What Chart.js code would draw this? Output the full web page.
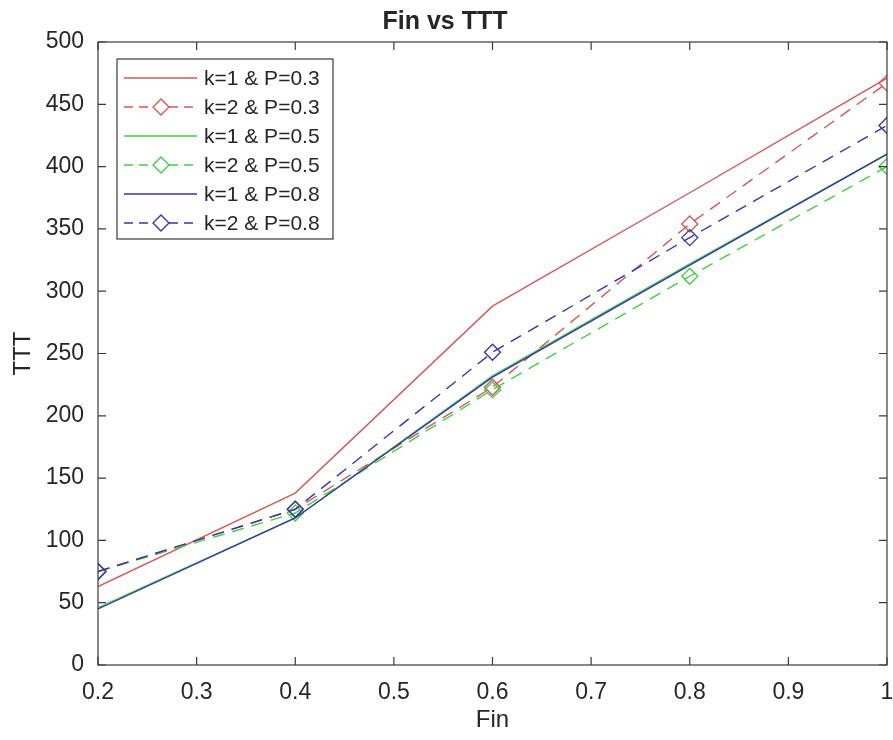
<!DOCTYPE html>
<html><head><meta charset="utf-8">
<script src="https://cdn.jsdelivr.net/npm/chart.js@4.4.1/dist/chart.umd.min.js"></script>
<style>html,body{margin:0;padding:0;background:#fff}#wrap{width:893px;height:740px}</style>
</head><body><div id="wrap"><canvas id="c" width="893" height="740"></canvas></div>
<script>
const finValues = [0.2, 0.4, 0.6, 0.8, 1.0];
const k1P03 = [63, 138, 288, 379, 471];
const k2P03 = [75, 125, 223, 354, 467];
const k1P05 = [46, 118, 232, 322, 410];
const k2P05 = [75, 122, 221, 312, 400];
const k1P08 = [45, 118, 231, 321, 410];
const k2P08 = [75, 125, 251, 343, 433];
const seriesLabels = ['k=1 & P=0.3','k=2 & P=0.3','k=1 & P=0.5','k=2 & P=0.5','k=1 & P=0.8','k=2 & P=0.8'];
const xTicks = [0.2,0.3,0.4,0.5,0.6,0.7,0.8,0.9,1.0];
const yTicks = [0,50,100,150,200,250,300,350,400,450,500];

const RED='rgb(212,88,88)', GREEN='rgb(70,205,70)', BLUE='rgb(55,55,165)';
const FONT='"Liberation Sans", Arial, sans-serif';
const TXT='#262626';
const fmtX = v => String(Math.round(v * 10) / 10);

function ds(label, vals, color, dashed, order){
  return {
    label, data: finValues.map((x,i)=>({x, y: vals[i]})),
    borderColor: color, backgroundColor: 'rgba(0,0,0,0)',
    borderWidth: 1.4, borderDash: dashed ? [12,8] : [],
    pointStyle: 'rectRot', pointRadius: dashed ? 8 : 0,
    pointBorderColor: color, pointBackgroundColor: 'rgba(0,0,0,0)', pointBorderWidth: 1.4,
    tension: 0, fill: false, order, _dashed: dashed
  };
}
const datasets = [
  ds(seriesLabels[0], k1P03, RED, false, 5),
  ds(seriesLabels[1], k2P03, RED, true, 4),
  ds(seriesLabels[2], k1P05, GREEN, false, 3),
  ds(seriesLabels[3], k2P05, GREEN, true, 2),
  ds(seriesLabels[4], k1P08, BLUE, false, 1),
  ds(seriesLabels[5], k2P08, BLUE, true, 0)
];

const boxPlugin = {
  id: 'boxPlugin',
  afterDraw(chart){
    const {ctx, chartArea: a, scales} = chart;
    ctx.save();
    ctx.strokeStyle = '#3a3a3a'; ctx.lineWidth = 1.2; ctx.setLineDash([]);
    ctx.strokeRect(a.left, a.top, a.right - a.left, a.bottom - a.top);
    const tl = 8;
    ctx.beginPath();
    for (const v of xTicks){
      const px = scales.x.getPixelForValue(v);
      ctx.moveTo(px, a.bottom); ctx.lineTo(px, a.bottom - tl);
      ctx.moveTo(px, a.top); ctx.lineTo(px, a.top + tl);
    }
    for (const v of yTicks){
      const py = scales.y.getPixelForValue(v);
      ctx.moveTo(a.left, py); ctx.lineTo(a.left + tl, py);
      ctx.moveTo(a.right, py); ctx.lineTo(a.right - tl, py);
    }
    ctx.stroke();
    // last x tick label (drawn here so it does not shrink the plot area)
    const items = scales.x.getLabelItems();
    const ref = items.find(it => it.label !== '');
    if (ref){
      const last = xTicks[xTicks.length - 1];
      ctx.font = '23px ' + FONT; ctx.fillStyle = TXT;
      ctx.textAlign = 'center'; ctx.textBaseline = ref.options.textBaseline || 'middle';
      ctx.fillText(fmtX(last), scales.x.getPixelForValue(last), ref.options.translation[1] + (ref.textOffset || 0));
    }
    // legend
    const lx = 117, ly = 59, lw = 216, lh = 180, row = 29;
    ctx.fillStyle = '#fff';
    ctx.fillRect(lx, ly, lw, lh);
    ctx.strokeStyle = '#3a3a3a'; ctx.lineWidth = 1.2;
    ctx.strokeRect(lx, ly, lw, lh);
    ctx.font = '21px ' + FONT; ctx.textBaseline = 'middle'; ctx.textAlign = 'left';
    chart.data.datasets.forEach((d, i) => {
      const cy = ly + 19 + i * row;
      ctx.strokeStyle = d.borderColor; ctx.lineWidth = 1.4;
      ctx.setLineDash(d._dashed ? [9,6] : []);
      ctx.beginPath(); ctx.moveTo(lx + 7, cy); ctx.lineTo(lx + 80, cy); ctx.stroke();
      ctx.setLineDash([]);
      if (d._dashed){
        const mx = lx + 44, r = 8;
        ctx.fillStyle = '#fff';
        ctx.beginPath(); ctx.moveTo(mx, cy - r); ctx.lineTo(mx + r, cy); ctx.lineTo(mx, cy + r); ctx.lineTo(mx - r, cy); ctx.closePath();
        ctx.fill(); ctx.stroke();
      }
      ctx.fillStyle = TXT;
      ctx.fillText(d.label, lx + 87, cy + 1);
    });
    ctx.restore();
  }
};

new Chart(document.getElementById('c'), {
  type: 'line',
  data: { datasets },
  options: {
    responsive: false, animation: false,
    layout: { autoPadding: false, padding: { left: 0, right: 3, top: 0, bottom: 0 } },
    plugins: {
      legend: { display: false }, tooltip: { enabled: false },
      title: { display: true, text: 'Fin vs TTT', color: TXT,
        font: { family: FONT, size: 25, weight: 'bold' }, padding: { top: 7, bottom: 5 } }
    },
    scales: {
      x: { type: 'linear', min: 0.2, max: 1.0,
        afterBuildTicks: s => { s.ticks = xTicks.map(v => ({ value: v })); },
        afterFit: s => { s.height = 75; },
        ticks: { color: TXT, font: { family: FONT, size: 23 }, padding: 6, maxRotation: 0,
          callback: v => (v >= 0.999 ? '' : fmtX(v)) },
        grid: { display: false }, border: { display: false },
        title: { display: true, text: 'Fin', color: TXT, font: { family: FONT, size: 24 }, padding: { top: 2, bottom: 5 } }
      },
      y: { min: 0, max: 500,
        afterBuildTicks: s => { s.ticks = yTicks.map(v => ({ value: v })); },
        afterFit: s => { s.width = 98; },
        ticks: { color: TXT, font: { family: FONT, size: 23 }, padding: 6 },
        grid: { display: false }, border: { display: false },
        title: { display: true, text: 'TTT', color: TXT, font: { family: FONT, size: 24 }, padding: { top: 9, bottom: 4 } }
      }
    }
  },
  plugins: [boxPlugin]
});
</script>
</body></html>
